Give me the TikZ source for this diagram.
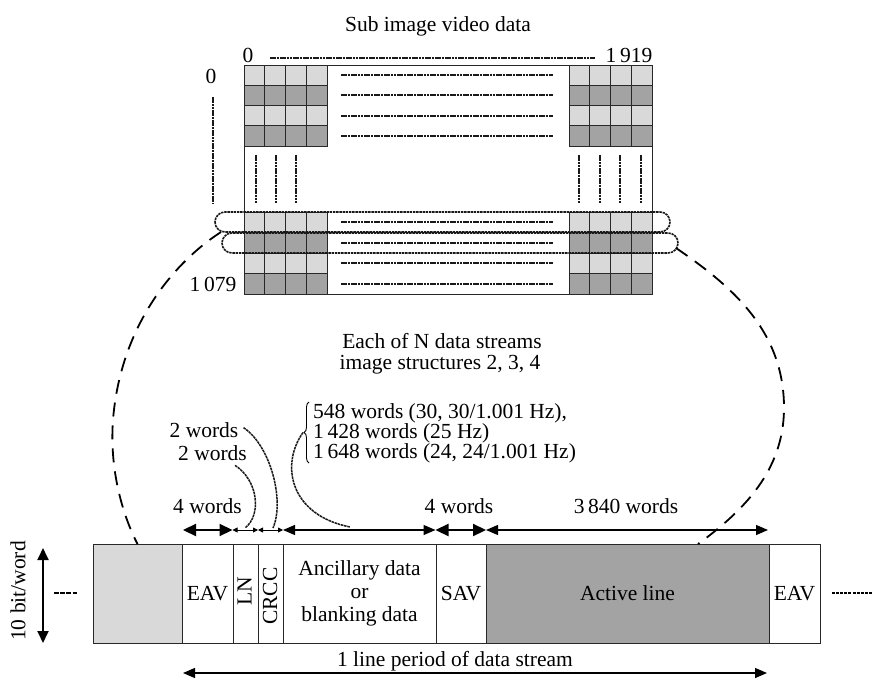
\documentclass[tikz,border=0pt]{standalone}
\usepackage{fontspec}
\setmainfont{Liberation Serif}
\usetikzlibrary{arrows.meta,decorations.pathreplacing}
\definecolor{lg}{RGB}{217,217,217}
\definecolor{dg}{RGB}{163,163,163}
\definecolor{ln}{RGB}{40,40,40}
\begin{document}
\begin{tikzpicture}[x=1pt,y=-1pt,
  every node/.style={font=\fontsize{21.5}{23}\selectfont, inner sep=0pt},
  lbl/.style={anchor=base},
  cell/.style={draw=ln, line width=0.8pt},
  seg/.style={draw=ln, line width=0.9pt, minimum height=99pt, inner sep=0pt, outer sep=0pt, anchor=north west},
  dotln/.style={draw=black!90, line width=2.1pt, dash pattern=on 2.6pt off 0.7pt},
  lasso/.style={draw=black!90, line width=1.6pt, dash pattern=on 2.4pt off 0.8pt, rounded corners=10pt},
  bigdash/.style={draw=black, line width=1.8pt, dash pattern=on 14pt off 9pt},
  thindash/.style={draw=black!90, line width=1.5pt, dash pattern=on 2.6pt off 0.7pt},
  thick arr/.style={draw=black, line width=2.2pt, {Triangle[length=13pt,width=12pt]}-{Triangle[length=13pt,width=12pt]}},
  long arr/.style={draw=black, line width=1.3pt, {Triangle[length=12pt,width=10pt]}-{Triangle[length=12pt,width=10pt]}},
  small arr/.style={draw=black, line width=0.9pt, {Triangle[length=5pt,width=5pt]}-{Triangle[length=5pt,width=5pt]}},
]
\useasboundingbox (0,0) rectangle (873,679);

% ---------- sub image grid ----------
\foreach \r/\c in {0/lg,1/dg,2/lg,3/dg}{
  \foreach \k in {0,1,2,3}{
    \filldraw[cell, fill=\c] ({244+\k*20.75},{65+\r*20.25}) rectangle ++(20.75,20.25);
    \filldraw[cell, fill=\c] ({569+\k*20.75},{65+\r*20.25}) rectangle ++(20.75,20.25);
    \filldraw[cell, fill=\c] ({244+\k*20.75},{212+\r*20.5}) rectangle ++(20.75,20.5);
    \filldraw[cell, fill=\c] ({569+\k*20.75},{212+\r*20.5}) rectangle ++(20.75,20.5);
  }
}
\draw[cell] (244,65) rectangle (652,294);

\foreach \y in {75.1,95.4,115.6,135.9,222.25,242.75,263.25,283.75}
  \draw[dotln] (341,\y) -- (553,\y);
\foreach \x in {256,276,296,579,600,620,641}
  \draw[dotln] (\x,155) -- (\x,203);
\draw[dotln] (213,97) -- (213,203);
\draw[dotln, line width=1.7pt] (270,58) -- (595,58);

\node[lbl] (title) at (438,32) {Sub image video data};
\node[lbl] (c0) at (248,63) {0};
\node[lbl] (c1919) at (629,63) {1\,919};
\node[lbl] (r0) at (211,84) {0};
\node[lbl] (r1079) at (213,291) {1\,079};

% lassos
\draw[lasso] (215,212) rectangle (670,232);
\draw[lasso] (222,233) rectangle (678,253);

% ---------- captions ----------
\node[lbl] (each1) at (442,348) {Each of N data streams};
\node[lbl] (each2) at (440,369) {image structures 2, 3, 4};

\draw[decorate, decoration={brace, amplitude=5pt}, line width=0.9pt] (309,463) -- (309,402);
\coordinate (btip) at (303,432.5);
\node[lbl, anchor=base west] (f1) at (313,418) {548 words (30, 30/1.001 Hz),};
\node[lbl, anchor=base west] (f2) at (313,438) {1\,428 words (25 Hz)};
\node[lbl, anchor=base west] (f3) at (313,458) {1\,648 words (24, 24/1.001 Hz)};

\node[lbl] (w2a) at (204,437) {2 words};
\node[lbl] (w2b) at (212.5,460) {2 words};

% ---------- data stream bar ----------
\node[seg, fill=lg, minimum width=89pt] (grey) at (93,544) {};
\node[seg, minimum width=51pt] (eav1) at (182,544) {EAV};
\node[seg, minimum width=25pt] (lnseg) at (233,544) {};
\node[seg, minimum width=25pt] (crcc) at (258,544) {};
\node[seg, minimum width=153pt, align=center] (anc) at (283,544) {Ancillary data\\or\\blanking data};
\node[seg, minimum width=50pt] (sav) at (436,544) {SAV};
\node[seg, fill=dg, minimum width=283pt] (act) at (486,544) {Active line};
\node[seg, minimum width=51pt] (eav2) at (769,544) {EAV};
\node[rotate=90] (lntxt) at (244.5,591) {LN};
\node[rotate=90] (crcctxt) at (270,596) {CRCC};

\draw[line width=2.6pt, dash pattern=on 4.6pt off 1.6pt] (54,593) -- (78,593);
\draw[line width=2.2pt, dash pattern=on 3pt off 1.1pt] (832,593) -- (873,593);

\node[rotate=90] (bits) at (18,591) {10 bit/word};
\coordinate (vt) at (43,548);
\coordinate (vb) at (43,643);
\draw[draw=black, line width=1.8pt, {Triangle[length=12pt,width=11pt]}-{Triangle[length=12pt,width=11pt]}] (vt) -- (vb);

% top dimension arrows
\coordinate (a0) at (183,530);
\coordinate (a1) at (232.5,530);
\coordinate (a2) at (258,530);
\coordinate (a3) at (283,530);
\coordinate (a4) at (435.5,530);
\coordinate (a5) at (486,530);
\coordinate (a6) at (768,530);
\draw[thick arr] (a0) -- (a1);
\draw[small arr] (a1) -- (a2);
\draw[small arr] (a2) -- (a3);
\draw[long arr] (a3) -- (a4);
\draw[thick arr] (a4) -- (a5);
\draw[long arr] (a5) -- (a6);

\node[lbl] (w4a) at (207.5,513) {4 words};
\node[lbl] (w4b) at (459,513) {4 words};
\node[lbl] (w3840) at (626,513) {3\,840 words};

% bottom arrow
\coordinate (b0) at (183,673);
\coordinate (b1) at (767,673);
\draw[long arr] (b0) -- (b1);
\node[lbl] (period) at (455,666) {1 line period of data stream};

% leader curves
\draw[thindash] ([xshift=5pt,yshift=2pt]w2a.east) .. controls (270,445) and (285,500) .. (273,528);
\draw[thindash] ([xshift=-12pt,yshift=-5pt]w2b.south east) .. controls (258,480) and (262,515) .. (245,528);
\draw[thindash] (btip) .. controls (280,465) and (290,515) .. (350,527);

% big dashed connectors
\coordinate (lasL) at (221,232);
\coordinate (lasR) at (676,248);
\coordinate (actP) at (698,544);
\draw[bigdash] (lasL) .. controls (170,265) and (120,330) .. (113,420)
                      .. controls (109,474) and (125,520) .. (grey.north);
\draw[bigdash] (lasR) .. controls (730,285) and (785,330) .. (784,410)
                      .. controls (783,470) and (745,510) .. (actP);
\end{tikzpicture}
\end{document}
